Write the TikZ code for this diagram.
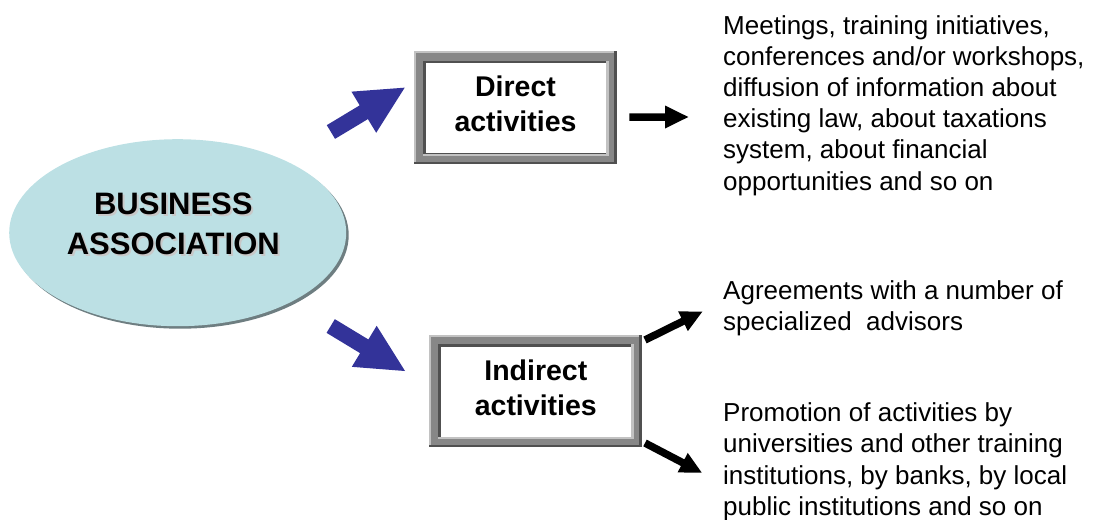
\documentclass[tikz,border=0pt]{standalone}
\usepackage{fontspec}
\setmainfont{Liberation Sans}
\usetikzlibrary{shapes.geometric,calc,shadows,backgrounds}

\definecolor{ovalfill}{HTML}{BCE0E4}
\definecolor{ovalshade}{HTML}{6E7E81}
\definecolor{arrowblue}{HTML}{333399}
\definecolor{framemid}{HTML}{878787}
\definecolor{framelight}{HTML}{C2C2C2}
\definecolor{framedark}{HTML}{505050}
\definecolor{textshade}{HTML}{C8C8C8}

\tikzset{
  oval/.style={ellipse, fill=ovalfill, inner sep=0pt,
    drop shadow={shadow xshift=2.5pt, shadow yshift=-2.5pt, fill=ovalshade, opacity=1}},
  ovaltext/.style={align=center, inner sep=0pt,
    font=\fontsize{31}{40}\selectfont\bfseries},
  whitebox/.style={rectangle, fill=white, inner sep=0pt},
  boxtext/.style={align=center, inner sep=0pt,
    font=\fontsize{28.5}{35}\selectfont\bfseries},
  notetext/.style={align=left, anchor=north west, inner sep=0pt,
    font=\fontsize{26}{31.2}\selectfont},
  % block arrow: total length, shaft width, head width, head length
  pics/blockarrow/.style n args={4}{code={
    \path[pic actions] (0,-#2/2) -- ({#1-#4},-#2/2) -- ({#1-#4},-#3/2) -- (#1,0)
      -- ({#1-#4},#3/2) -- ({#1-#4},#2/2) -- (0,#2/2) -- cycle;
  }}
}

% bevelled grey frame drawn behind a white box node
\newcommand\bevelframe[1]{%
  \fill[framedark]  ($(#1.north west)+(-12,12)$) rectangle ($(#1.south east)+(10.5,-10.7)$);
  \fill[framelight] ($(#1.north west)+(-12,12)$) rectangle ($(#1.south east)+(8,-8.2)$);
  \fill[framemid]   ($(#1.north west)+(-10,10)$) rectangle ($(#1.south east)+(8,-8.2)$);
  \fill[framelight] ($(#1.north west)+(-2.5,2.5)$) rectangle ($(#1.south east)+(2.5,-2.5)$);
  \fill[framedark]  ($(#1.north west)+(-2.5,2.5)$) rectangle (#1.south east);
}

\begin{document}
\begin{tikzpicture}[x=1pt, y=1pt]
  \path[use as bounding box] (0,0) rectangle (1094,-519);

  % central oval
  \node[oval, minimum width=337pt, minimum height=187pt] (assoc) at (177.7,-232.7) {};
  \node[ovaltext, text=textshade] (assocshade) at (175.3,-226.2) {BUSINESS\\ASSOCIATION};
  \node[ovaltext] (assoclabel) at (173.3,-224.2) {BUSINESS\\ASSOCIATION};

  % activity boxes
  \node[whitebox, minimum width=180pt, minimum height=90pt] (direct) at (516,-108.3) {};
  \node[boxtext] (directlabel) at (515.5,-103.8) {Direct\\activities};
  \node[whitebox, minimum width=190pt, minimum height=89.5pt] (indirect) at (536,-391.8) {};
  \node[boxtext] (indirectlabel) at (535.8,-388.3) {Indirect\\activities};
  \begin{pgfonlayer}{background}
    \bevelframe{direct}
    \bevelframe{indirect}
  \end{pgfonlayer}

  % descriptions
  \node[notetext] (directnote) at (723,-15) {Meetings, training initiatives,\\
    conferences and/or workshops,\\diffusion of information about\\
    existing law, about taxations\\system, about financial\\
    opportunities and so on};
  \node[notetext] (advisornote) at (723,-280) {Agreements with a number of\\
    specialized\ \ advisors};
  \node[notetext] (promonote) at (723,-402.7) {Promotion of activities by\\
    universities and other training\\institutions, by banks, by local\\
    public institutions and so on};

  % arrow tails
  \coordinate (toDirect)   at (330.9,-132);
  \coordinate (toIndirect) at (330.7,-326);
  \coordinate (fromDirect) at (629.3,-117);
  \coordinate (toAdvisor)  at (645,-340);
  \coordinate (toPromo)    at (645,-443);

  \pic[fill=arrowblue, rotate=31.0]  at (toDirect)   {blockarrow={86.1}{16}{48}{47.7}};
  \pic[fill=arrowblue, rotate=-31.2] at (toIndirect) {blockarrow={86.9}{16}{48}{47.7}};
  \pic[fill=black]                   at (fromDirect) {blockarrow={59}{7.5}{23}{23.3}};
  \pic[fill=black, rotate=26.3]      at (toAdvisor)  {blockarrow={63.9}{7.5}{22}{21.5}};
  \pic[fill=black, rotate=-27.6]     at (toPromo)    {blockarrow={64}{7.5}{22}{21.5}};
\end{tikzpicture}
\end{document}
